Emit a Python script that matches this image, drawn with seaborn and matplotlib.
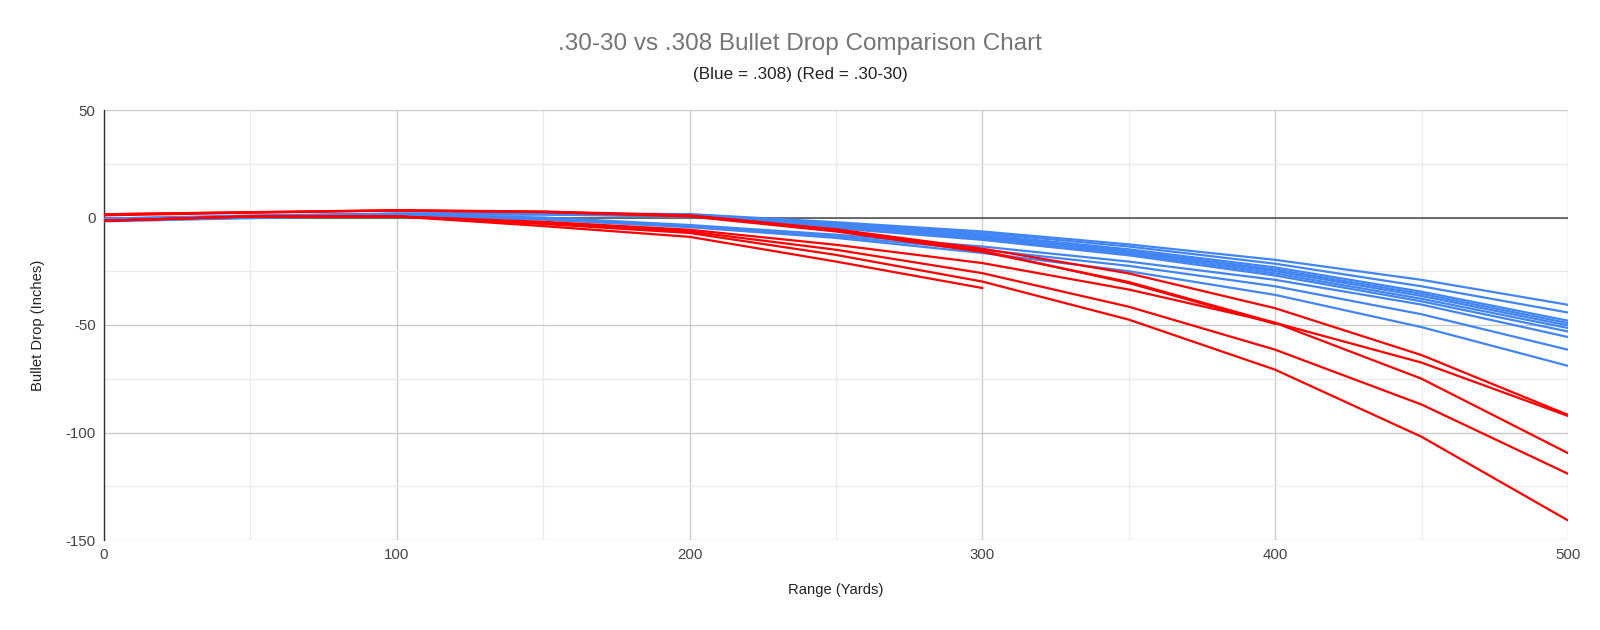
import numpy as np
import pandas as pd
import seaborn as sns
import matplotlib
matplotlib.use("Agg")
import matplotlib.pyplot as plt
from matplotlib.ticker import MultipleLocator

# Range in yards
ranges = [0, 50, 100, 150, 200, 250, 300, 350, 400, 450, 500]

# .308 loads (blue)
b1 = [-0.5, 0.8, 1.8, 2.0, 1.6, -2.2, -6.5, -12.5, -19.7, -29.0, -40.6]
b2 = [-0.5, 0.8, 1.8, 1.9, 1.4, -2.7, -7.2, -13.5, -21.5, -32.0, -44.2]
b3 = [-1.0, 0.7, 1.7, 1.8, 1.2, -3.2, -8.0, -14.8, -23.2, -34.5, -48.0]
b4 = [-1.0, 0.7, 1.6, 1.7, 1.0, -3.6, -8.6, -15.5, -24.2, -35.5, -49.1]
b5 = [-1.0, 0.6, 1.5, 1.6, 0.8, -4.0, -9.2, -16.2, -25.0, -36.5, -50.2]
b6 = [-1.5, 0.6, 1.4, 1.5, 0.6, -4.5, -9.8, -16.9, -26.0, -37.8, -51.4]
b7 = [-1.5, 0.5, 1.3, 1.4, 0.4, -5.0, -10.4, -17.6, -27.0, -39.0, -53.0]
b8 = [-1.5, 0.3, 1.2, 0.0, -3.5, -8.0, -13.5, -20.5, -29.0, -40.5, -55.6]
b9 = [-1.5, 0.0, 1.1, -0.5, -4.0, -8.8, -15.0, -22.5, -32.0, -45.0, -61.5]
b10 = [-1.8, -0.3, 1.0, -1.0, -4.5, -9.5, -16.5, -25.0, -36.0, -51.0, -69.0]

# .30-30 loads (red)
r1 = [1.5, 2.5, 3.4, 2.8, 1.0, -5.5, -14.5, -26.0, -42.2, -64.0, -91.8]
r2 = [1.0, 2.2, 3.2, 2.5, 0.5, -6.5, -16.0, -30.0, -49.0, -67.5, -92.3]
r7 = [1.5, 2.4, 3.3, 2.6, 0.8, -6.0, -15.5, -30.5, -49.5, np.nan, np.nan]
r3 = [-1.5, 0.5, 0.5, -2.0, -5.7, -12.7, -21.2, -33.5, -49.0, -75.0, -109.6]
r4 = [-1.5, 0.5, 0.5, -2.5, -6.5, -15.0, -25.9, -41.5, -61.5, -87.0, -119.2]
r5 = [-1.5, 0.5, 0.5, -3.0, -7.2, -17.4, -29.8, -47.5, -70.8, -102.0, -140.9]
r6 = [-1.5, 0.5, 0.5, -4.0, -9.0, -20.5, -32.8, np.nan, np.nan, np.nan, np.nan]

blue_series = {"b1": b1, "b2": b2, "b3": b3, "b4": b4, "b5": b5,
               "b6": b6, "b7": b7, "b8": b8, "b9": b9, "b10": b10}
red_series = {"r1": r1, "r2": r2, "r7": r7, "r3": r3, "r4": r4, "r5": r5, "r6": r6}

BLUE = "#4285F4"
RED = "#FF0000"

rows = []
for name, vals in list(blue_series.items()) + list(red_series.items()):
    for x, y in zip(ranges, vals):
        rows.append({"series": name, "range": x, "drop": y})
df = pd.DataFrame(rows).dropna()

palette = {k: BLUE for k in blue_series}
palette.update({k: RED for k in red_series})

sns.set_theme(style="white")
plt.rcParams["font.family"] = ["Liberation Sans", "DejaVu Sans"]
plt.rcParams["axes.unicode_minus"] = False

fig = plt.figure(figsize=(16, 6.3), dpi=100)
ax = fig.add_axes([0.065, 1 - 540 / 630, 0.98 - 0.065, (540 - 110) / 630])

# grid
ax.set_xlim(0, 500)
ax.set_ylim(-150, 50)
ax.xaxis.set_major_locator(MultipleLocator(100))
ax.xaxis.set_minor_locator(MultipleLocator(50))
ax.yaxis.set_major_locator(MultipleLocator(50))
ax.yaxis.set_minor_locator(MultipleLocator(25))
ax.grid(which="major", color="#cccccc", linewidth=1.0, zorder=0)
ax.grid(which="minor", color="#ebebeb", linewidth=1.0, zorder=0)
ax.set_axisbelow(True)

for s in ["top", "right", "bottom"]:
    ax.spines[s].set_visible(False)
ax.spines["left"].set_color("#333333")
ax.spines["left"].set_linewidth(1.0)

blue_df = df[df["series"].isin(blue_series.keys())]
red_df = df[df["series"].isin(red_series.keys())]
sns.lineplot(data=blue_df, x="range", y="drop", hue="series", palette=palette,
             estimator=None, sort=False, legend=False, linewidth=1.6, ax=ax, zorder=3)
sns.lineplot(data=red_df, x="range", y="drop", hue="series", palette=palette,
             estimator=None, sort=False, legend=False, linewidth=1.6, ax=ax, zorder=4)

ax.axhline(0, color="#555555", linewidth=1.2, zorder=2)

ax.tick_params(axis="both", which="both", length=0, labelsize=10.8, labelcolor="#444444")
ax.tick_params(axis="y", pad=6)
ax.tick_params(axis="x", pad=6)
ax.set_xlabel("Range (Yards)", fontsize=10.6, color="#222222")
ax.set_ylabel("Bullet Drop (Inches)", fontsize=10.6, color="#222222")
ax.xaxis.set_label_coords(0.5, (540 - 590) / 430)
ax.yaxis.set_label_coords((38 - 104) / 1464, 0.5)
ax.xaxis.label.set_va("center")
ax.yaxis.label.set_va("center")

fig.text(0.5, 1 - 44 / 630, ".30-30 vs .308 Bullet Drop Comparison Chart",
         ha="center", va="center", fontsize=17.5, color="#757575")
fig.text(0.5, 1 - 74.5 / 630, "(Blue = .308) (Red = .30-30)",
         ha="center", va="center", fontsize=12.3, color="#222222")

fig.savefig("out.png", dpi=100, facecolor="white")
